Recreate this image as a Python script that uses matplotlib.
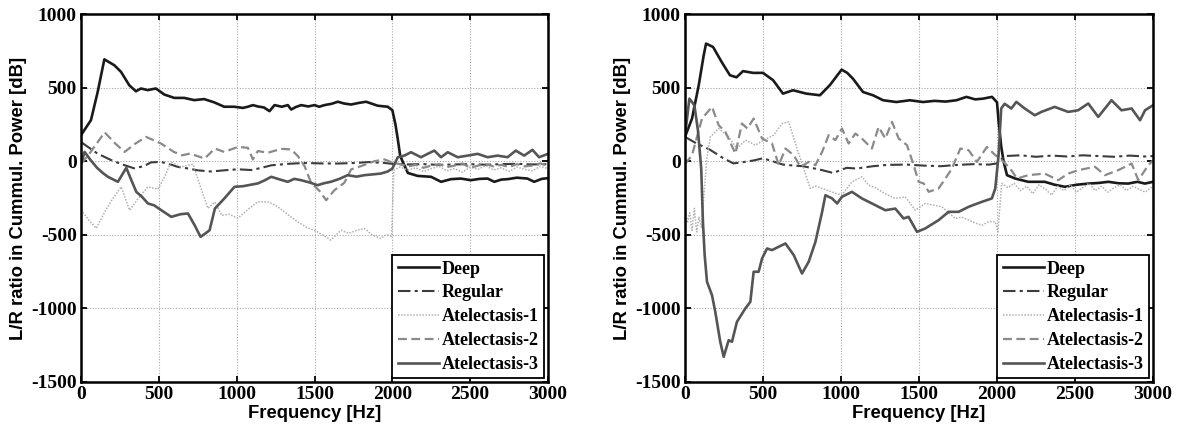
import matplotlib
matplotlib.use("Agg")
import matplotlib.pyplot as plt

plt.rcParams["axes.unicode_minus"] = False

# ---------------- data ----------------
labels = ["Deep", "Regular", "Atelectasis-1", "Atelectasis-2", "Atelectasis-3"]

# Left panel
L_deep_f = [0, 64, 107, 150, 214, 257, 310, 353, 385, 428, 481, 535, 599, 663, 727, 791, 855, 920, 984, 1040,
            1072, 1104, 1136, 1175, 1211, 1243, 1290, 1329, 1350, 1380, 1414, 1460, 1500, 1530, 1564, 1610, 1650, 1690, 1735, 1780,
            1831, 1870, 1906, 1970, 2000, 2020, 2035, 2050, 2067, 2100, 2163, 2249, 2313, 2377, 2440, 2505, 2560, 2612, 2655, 2700,
            2740, 2800, 2868, 2911, 2960, 3000]
L_deep_v = [177, 279, 470, 692, 652, 607, 516, 475, 494, 483, 494, 453, 430, 430, 415, 422, 400, 370, 370, 362,
            370, 381, 372, 365, 340, 381, 370, 381, 351, 368, 381, 372, 381, 370, 381, 390, 404, 392, 385, 395,
            404, 390, 377, 370, 347, 250, 150, 40, -5, -80, -100, -106, -140, -122, -118, -129, -120, -118, -140, -125,
            -122, -112, -118, -140, -120, -115]

L_reg_f = [0, 103, 188, 260, 340, 400, 450, 514, 570, 620, 690, 750, 835, 920, 1008, 1093, 1160, 1222, 1328, 1436,
           1540, 1650, 1760, 1850, 1950, 2000, 2100, 2200, 2300, 2400, 2500, 2600, 2700, 2800, 2900, 3000]
L_reg_v = [130, 54, 10, -20, -48, -35, -8, -5, -20, -38, -50, -62, -70, -62, -55, -60, -45, -28, -18, -12,
           -15, -16, -12, -6, -12, -18, -22, -20, -25, -22, -20, -24, -20, -18, -22, -20]

L_at1_f = [0, 50, 98, 150, 200, 258, 312, 370, 430, 494, 540, 578, 640, 719, 760, 815, 860, 905, 950, 1008,
           1070, 1136, 1200, 1250, 1307, 1350, 1393, 1450, 1500, 1550, 1605, 1640, 1670, 1720, 1770, 1821, 1870, 1926, 1960, 1995,
           2010, 2050, 2100, 2150, 2200, 2250, 2300, 2350, 2400, 2450, 2500, 2550, 2600, 2650, 2700, 2750, 2800, 2850, 2900, 2950, 3000]
L_at1_v = [-330, -400, -456, -350, -260, -174, -333, -250, -174, -190, -100, -5, -40, -20, -150, -320, -277, -368, -360, -387,
           -330, -276, -276, -300, -344, -380, -412, -450, -469, -500, -536, -500, -469, -490, -470, -457, -500, -525, -500, -510,
           -60, -40, -60, -45, -70, -50, -35, -65, -50, -75, -40, -55, -30, -60, -45, -70, -40, -55, -65, -35, -50]

L_at2_f = [0, 60, 152, 220, 280, 350, 418, 514, 597, 650, 700, 794, 860, 920, 1008, 1072, 1104, 1136, 1200, 1285,
           1350, 1393, 1436, 1478, 1532, 1575, 1628, 1692, 1735, 1800, 1885, 1950, 2000,
           2050, 2100, 2150, 2200, 2250, 2300, 2350, 2400, 2450, 2500, 2550, 2600, 2650, 2700, 2750, 2800, 2850, 2900, 2950, 3000]
L_at2_v = [-20, 60, 196, 120, 63, 120, 165, 120, 63, 40, 52, 18, 86, 63, 97, 91, 12, 69, 57, 84,
           80, 35, -33, -146, -202, -265, -197, -146, -56, -33, 0, 12, -10,
           -20, -35, -25, -45, -30, -20, -40, -30, -15, -45, -30, -20, -35, -25, -40, -20, -35, -30, -15, -30]

L_at3_f = [0, 23, 60, 103, 140, 173, 237, 291, 320, 355, 390, 430, 470, 516, 580, 640, 687, 730, 768, 800,
           826, 860, 920, 986, 1040, 1090, 1136, 1180, 1222, 1280, 1328, 1370, 1414, 1470, 1520, 1560, 1605, 1660, 1713, 1770,
           1820, 1870, 1926, 1970, 2000, 2035, 2077, 2120, 2184, 2227, 2270, 2313, 2356, 2420, 2484, 2548, 2612, 2676, 2740, 2793,
           2847, 2900, 2943, 3000]
L_at3_v = [-20, 63, 10, -45, -80, -106, -140, -45, -120, -208, -240, -287, -300, -333, -378, -360, -355, -435, -514, -490,
           -469, -322, -254, -174, -170, -160, -151, -130, -106, -125, -140, -120, -129, -145, -163, -150, -140, -120, -95, -105,
           -95, -90, -84, -70, -50, 27, 38, 61, 27, 50, 72, 27, 61, 27, 38, 50, 27, 38, 27, 72,
           38, 77, 27, 50]

# Right panel
R_deep_f = [0, 45, 88, 120, 135, 180, 235, 288, 330, 372, 436, 500, 565, 628, 692, 778, 865, 928, 1004, 1040,
            1077, 1141, 1205, 1270, 1355, 1441, 1526, 1600, 1670, 1740, 1804, 1860, 1911, 1968, 2000, 2010, 2027, 2042, 2064, 2117,
            2200, 2306, 2370, 2436, 2510, 2585, 2650, 2714, 2780, 2841, 2900, 2948, 3000]
R_deep_v = [165, 290, 516, 720, 799, 776, 674, 584, 570, 612, 600, 600, 550, 459, 482, 459, 448, 516, 622, 600,
            560, 470, 448, 414, 402, 414, 402, 410, 405, 414, 437, 420, 425, 437, 400, 273, 100, 0, -95, -118,
            -140, -140, -160, -174, -160, -152, -148, -140, -150, -152, -140, -152, -140]

R_reg_f = [0, 75, 160, 246, 310, 380, 440, 500, 560, 628, 700, 757, 865, 950, 1036, 1100, 1205, 1300, 1420, 1530,
           1640, 1750, 1850, 1950, 2000, 2050, 2150, 2250, 2350, 2450, 2550, 2650, 2750, 2850, 2950, 3000]
R_reg_v = [165, 120, 78, 20, -15, -5, 5, 20, 0, -23, -30, -34, -57, -80, -45, -50, -34, -25, -23, -30,
           -34, -25, -20, -23, -15, 35, 40, 30, 38, 32, 40, 35, 30, 38, 32, 35]

R_at1_f = [0, 15, 30, 45, 60, 75, 90, 105, 120, 140, 162, 216, 280, 333, 387, 451, 505, 569, 622, 665,
           718, 761, 803, 840, 878, 920, 964, 1006, 1070, 1134, 1177, 1220, 1263, 1300, 1348, 1412, 1476, 1540, 1600, 1647,
           1690, 1732, 1775, 1818, 1860, 1903, 1950, 1989, 2006, 2030,
           2070, 2110, 2150, 2190, 2230, 2270, 2310, 2350, 2390, 2430, 2470, 2510, 2550, 2590, 2630, 2670, 2710, 2750, 2790, 2830,
           2870, 2910, 2950, 3000]
R_at1_v = [-300, -420, -350, -470, -320, -480, -380, -450, -250, 20, 165, 222, 165, 86, 143, 109, 143, 177, 256, 267,
           86, -50, -185, -170, -185, -200, -218, -230, -140, -106, -163, -180, -208, -230, -253, -242, -333, -287, -300, -310,
           -350, -389, -380, -400, -420, -435, -410, -412, -480, -150,
           -180, -150, -200, -170, -220, -160, -190, -230, -170, -200, -160, -210, -180, -150, -200, -170, -210, -180, -160, -200,
           -170, -190, -210, -170]

R_at2_f = [0, 45, 109, 173, 216, 259, 323, 365, 400, 440, 494, 558, 601, 644, 697, 740, 793, 836, 879, 921,
           964, 1006, 1049, 1092, 1134, 1198, 1241, 1284, 1327, 1370, 1423, 1466, 1498, 1530, 1562, 1626, 1669, 1711, 1765, 1818,
           1871, 1935, 1989, 2020, 2042, 2085, 2128, 2200, 2306, 2392, 2457, 2521, 2628, 2692, 2777, 2863, 2906, 2970, 3000]
R_at2_v = [-20, 41, 290, 369, 244, 199, 52, 256, 222, 290, 154, 120, -27, 86, 41, -38, -5, -27, 63, 177,
           143, 222, 120, 188, 154, 86, 233, 154, 267, 154, 109, -27, -140, -151, -208, -185, -118, -50, 86, 75,
           -5, 97, 41, 20, -5, -50, -118, -95, -84, -129, -84, -61, -38, -95, -61, -16, -129, -27, 5]

R_at3_f = [0, 28, 60, 83, 104, 115, 126, 141, 173, 194, 226, 248, 280, 301, 333, 387, 419, 440, 472, 494,
           526, 558, 601, 644, 697, 750, 793, 836, 879, 900, 943, 975, 1006, 1070, 1134, 1198, 1284, 1348, 1401, 1433,
           1487, 1540, 1626, 1690, 1754, 1818, 1903, 1967, 1989, 2010, 2027, 2049, 2092, 2124, 2178, 2242, 2285, 2370, 2456, 2520,
           2585, 2649, 2734, 2798, 2863, 2917, 2949, 3000]
R_at3_v = [170, 425, 380, 210, -50, -412, -638, -819, -910, -1023, -1227, -1329, -1216, -1227, -1091, -1000, -955, -751, -751, -661,
           -593, -604, -581, -559, -638, -763, -683, -548, -344, -231, -253, -287, -242, -208, -253, -287, -333, -322, -389, -378,
           -480, -457, -400, -344, -344, -310, -276, -253, -185, 41, 358, 390, 358, 403, 358, 312, 335, 369, 335, 346,
           392, 301, 414, 346, 358, 278, 346, 380]

x_ticks = [0, 500, 1000, 1500, 2000, 2500, 3000]
y_ticks = [-1500, -1000, -500, 0, 500, 1000]

# ---------------- styles ----------------
styles = [
    dict(color="#1a1a1a", lw=1.9, ls="-"),
    dict(color="#3c3c3c", lw=1.5, ls=(0, (6, 2, 1.5, 2))),
    dict(color="#b0b0b0", lw=1.1, ls=(0, (1, 1))),
    dict(color="#8a8a8a", lw=1.6, ls=(0, (4, 2))),
    dict(color="#555555", lw=1.9, ls="-"),
]

tick_font = dict(family="Liberation Serif", weight="bold", size=14)
label_font = dict(family="Liberation Sans", weight="bold", size=13.3)
legend_font = dict(family="Liberation Serif", weight="bold", size=13)

fig = plt.figure(figsize=(11.81, 4.32), dpi=100)
W, H = 1181, 432
ax1 = fig.add_axes([81 / W, 1 - 382 / H, (548 - 81) / W, (382 - 14) / H])
ax2 = fig.add_axes([685 / W, 1 - 382 / H, (1153 - 685) / W, (382 - 14) / H])

panels = [
    (ax1, [(L_deep_f, L_deep_v), (L_reg_f, L_reg_v), (L_at1_f, L_at1_v), (L_at2_f, L_at2_v), (L_at3_f, L_at3_v)]),
    (ax2, [(R_deep_f, R_deep_v), (R_reg_f, R_reg_v), (R_at1_f, R_at1_v), (R_at2_f, R_at2_v), (R_at3_f, R_at3_v)]),
]

for ax, series in panels:
    for (f, v), lab, st in zip(series, labels, styles):
        ax.plot(f, v, label=lab, color=st["color"], lw=st["lw"], ls=st["ls"])
    ax.set_xlim(0, 3000)
    ax.set_ylim(-1500, 1000)
    ax.set_xticks(x_ticks)
    ax.set_yticks(y_ticks)
    ax.grid(True, ls=(0, (1, 1.5)), color="#a8a8a8", lw=0.8)
    ax.tick_params(direction="in", top=True, right=True, length=4, width=1.3, pad=3)
    for t in ax.get_xticklabels() + ax.get_yticklabels():
        t.set_fontfamily(tick_font["family"])
        t.set_fontweight("bold")
        t.set_fontsize(tick_font["size"])
    for s in ax.spines.values():
        s.set_linewidth(1.8)
    ax.set_xlabel("Frequency [Hz]", fontdict=label_font, labelpad=1)
    ax.set_ylabel("L/R ratio in Cummul. Power [dB]", fontdict=label_font, labelpad=3)
    leg = ax.legend(loc="lower right", prop=legend_font,
                    frameon=True, fancybox=False, framealpha=1, edgecolor="black",
                    borderaxespad=0.2, handlelength=2.3, handletextpad=0.15,
                    labelspacing=0.38, borderpad=0.3)
    leg.get_frame().set_linewidth(1.3)

fig.savefig("out.png", dpi=100)
